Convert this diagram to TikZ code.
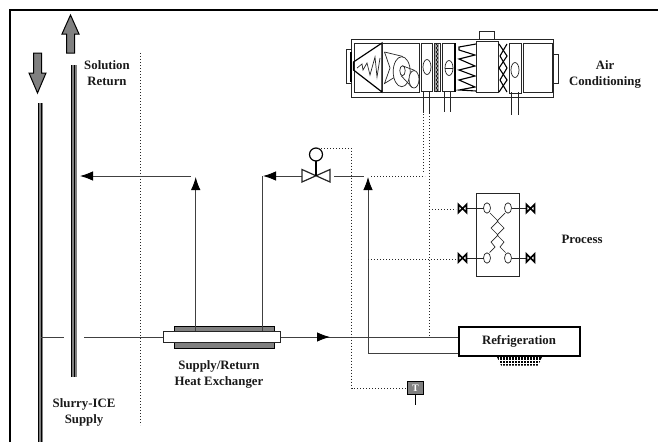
\documentclass[tikz,border=0pt]{standalone}
\usepackage{fontspec}
\setmainfont{Liberation Serif}
\usetikzlibrary{arrows.meta,positioning}
\definecolor{pipegray}{gray}{0.5}
\tikzset{
  label/.style={
    font=\fontsize{12.8}{16}\selectfont\bfseries,
    align=center,
    inner sep=0pt,
    text=black!90
  },
  flow/.style={
    draw=black!75,
    line width=0.9pt
  },
  flowtip/.style={
    flow,
    -{Latex[length=13pt,width=9.5pt,black]}
  },
  signal/.style={
    draw=black!85,
    dash pattern=on 1pt off 2pt,
    line width=1pt
  },
  part/.style={
    draw=black!85,
    line width=1pt,
    fill=white
  },
  thin part/.style={
    draw=black!85,
    line width=0.7pt
  },
  bigarrow/.style={
    draw=black,
    fill=pipegray,
    line width=1pt
  },
  riser/.style={
    fill=pipegray,
    draw=none
  },
  smallvalve/.style={
    draw=black,
    line width=1.7pt
  }
}
\begin{document}
\begin{tikzpicture}[x=1pt,y=-1pt]
    \useasboundingbox (0,0) rectangle (658,442);
    % frame
    \draw[line width=2pt] (9.5,442)--(9.5,9.5)--(658,9.5);
    % risers
    \fill[riser] (37.5,103) rectangle (43,442);
    \draw[line width=1pt] (38,103)--(38,442);
    \draw[line width=1pt] (41.5,103)--(41.5,442);
    \fill[riser] (71,65) rectangle (77,377);
    \draw[line width=1pt] (71.5,65)--(71.5,377);
    \draw[line width=1pt] (74.5,65)--(74.5,377);
    \draw[bigarrow] (33.5,53)--(41.5,53)--(41.5,73)--(46,73)--(37.5,93)--(29,73)--(33.5,73)--cycle;
    \draw[bigarrow] (66.5,53)--(74.5,53)--(74.5,34)--(79,34)--(70.5,15)--(62,34)--(66.5,34)--cycle;
    \draw[signal] (140,53)--(140,425);
    % nodes
    \node[label] (solution) at (107,73) {Solution\\Return};
    \node[label] (aircon) at (605,74) {Air\\Conditioning};
    \node[label] (process) at (582,239) {Process};
    \node[label] (hxlabel) at (219,374) {Supply/Return\\Heat Exchanger};
    \node[label] (slurry) at (84,412) {Slurry-ICE\\Supply};
    \fill[pipegray,draw=black,line width=1pt] (174,326) rectangle (274.5,348);
    \node[part,minimum width=117pt,minimum height=11.5pt,inner sep=0pt] (hx) at (221.5,337) {};
    \node[label,draw=black,line width=2pt,fill=white,minimum width=121pt,minimum height=29pt,inner sep=0pt] (refrig) at (519,341) {\raisebox{-6pt}{Refrigeration}};
    % supply line
    \coordinate (tee) at (41,337);
    \coordinate (gapL) at (64,337);
    \coordinate (gapR) at (84,337);
    \draw[flow] (tee)--(gapL);
    \draw[flow] (gapR)--(hx.west);
    \draw[flow] (hx.east)--(refrig.west |- 0,337);
    \draw[flowtip] (hx.east)--(330,337);
    % return lines
    \coordinate (retA) at (195.7,331);
    \coordinate (retB) at (262.5,331);
    \coordinate (tipA) at (80,176);
    \draw[flowtip] (retA)--(195.7,177);
    \draw[flowtip] (191,176)--(tipA);
    \coordinate (valve) at (316,176);
    \draw[flow] (retB)--(262.5,176);
    \draw[flowtip] (302,176)--(263,176);
    \draw[flow] (334,176)--(364,176);
    \draw[flowtip] (refrig.west |- 0,353.5)--(368,353.5)--(368,177);
    % valve
    \draw[part,line width=1.2pt,fill=white] (302,169.5)--(330,182)--(330,169.5)--(302,182)--cycle;
    \draw[line width=1.2pt] (valve)--(316,161);
    \node[circle,draw=black,line width=1.2pt,fill=white,minimum size=13pt,inner sep=0pt] (actuator) at (316,154.5) {};
    % temperature sensor
    \node[draw=black,line width=1pt,fill=pipegray,text=white,minimum width=16pt,minimum height=13pt,inner sep=0pt,font=\fontsize{10}{10}\selectfont\bfseries] (sensor) at (415.5,388) {T};
    \draw[line width=0.9pt] (sensor.south)--++(0,10);
    \draw[signal] (318,148)--(351.5,148)--(351.5,388)--(sensor.west);
    % coil under the condenser
    \fill (497,357)--(542,357)--(538,365.5)--(501,365.5)--cycle;
    \foreach \i in {0,...,13}
      \draw[white,line width=0.35pt] (499.5+\i*3,357)--(499.5+\i*3,365.5);
    \draw[white,line width=0.5pt] (498,360)--(541,360);
    \draw[white,line width=0.5pt] (499,363)--(540,363);
    % distribution
    \draw[signal] (429,336)--(429,113);
    \draw[signal] (371,176)--(425,176);
    \draw[signal] (423.5,172)--(423.5,113);
    \draw[signal] (429,209)--(456,209);
    \draw[signal] (368,259)--(456,259);
    % process exchanger
    \draw[part] (476.5,193) rectangle (519,276);
    \foreach \px/\py in {487/208,508/208,487/258,508/258}
      \draw[thin part,fill=white] (\px,\py) ellipse (3.5 and 5.2);
    \draw[thin part] (467,208.5)--(483.5,208.5);
    \draw[thin part] (511.5,208.5)--(526,208.5);
    \draw[thin part] (467,258)--(483.5,258);
    \draw[thin part] (511.5,258)--(526,258);
    \draw[thin part] (490,213)--(498,221)--(491,228)--(498,235)--(491,242)--(495,247)--(489.5,252.5);
    \draw[thin part] (505,213)--(497,221)--(504,228)--(497,235)--(504,242)--(500,247)--(505.5,252.5);
    \foreach \vx/\vy in {462.5/208.5,462.5/258,530.5/208.5,530.5/258}
      \draw[smallvalve,fill=white] (\vx-4,\vy-4)--(\vx+4,\vy+4)--(\vx+4,\vy-4)--(\vx-4,\vy+4)--cycle;
    % air handling unit
    \draw[part] (351,39) rectangle (553,97);
    \draw[thin part,fill=white] (479,31) rectangle (494,39);
    \draw[thin part] (351,49)--(346,49)--(346,83)--(351,83);
    \draw[line width=1.3pt] (351,52)--(351,82);
    \draw[thin part] (553,54)--(558,54)--(558,83)--(553,83);
    \draw[thin part] (354,43) rectangle (382,92);
    \draw[line width=1.2pt] (382,43)--(353.5,62)--(353.5,70)--(382,92)--cycle;
    \draw[thin part] (357,68)--(362,64)--(363,70)--(367,63)--(370,75)--(375,57)--(377,77)--(380,58);
    \draw[thin part] (382,43) rectangle (419,92);
    \draw[thin part] (384.5,52)--(403,56.5);
    \draw[thin part] (384.5,52)--(390,68)--(384.5,83.5)--(395,77);
    \draw[thin part,fill=white] (401.7,71.7) ellipse (8.5 and 15);
    \draw[thin part] (403,66)--(415,70.5);
    \draw[thin part] (401,75.5)--(412,87.5);
    \draw[thin part,fill=white] (402.5,70.7) ellipse (2.7 and 5);
    \draw[thin part,fill=white] (414,79.3) ellipse (5 and 8.7);
    \draw[part] (421,43) rectangle (432,91);
    \draw[thin part] (427,67) ellipse (4 and 7.5);
    \fill[black!35] (435,43) rectangle (439,91);
    \draw[thin part] (434,43) rectangle (440,91);
    \foreach \i in {0,...,11}
      \draw[line width=0.5pt] (436,44+\i*4)--(438,46+\i*4)--(436,48+\i*4);
    \draw[part] (442.5,43) rectangle (454.5,91);
    \draw[thin part] (449,68) ellipse (4 and 7.5);
    \draw[thin part] (445,68)--(453,68);
    \draw[line width=1.4pt] (455,43)--(455,92);
    \draw[line width=1.1pt] (476,44)--(459,47)--(459,50)--(475,55)--(459,59)--(475,66)--(459,70)--(475,76)--(459,80)--(475,87)--(459,90)--(476,91);
    \draw[part] (476,41) rectangle (498.5,92);
    \draw[line width=1.1pt] (499,44)--(507,56)--(499,68)--(507,80)--(499,92);
    \draw[line width=1.1pt] (507,44)--(500,56)--(507,68)--(500,80)--(507,92);
    \draw[part] (509,43) rectangle (521,93);
    \draw[thin part] (515,70) ellipse (4 and 7.5);
    \draw[part] (523,43) rectangle (552,92);
    \foreach \ax/\ay in {423.5/113,429/113,444.5/112,450.5/112,511.5/115,518.5/115}
      \draw[thin part] (\ax,92)--(\ax,\ay);
\end{tikzpicture}
\end{document}
